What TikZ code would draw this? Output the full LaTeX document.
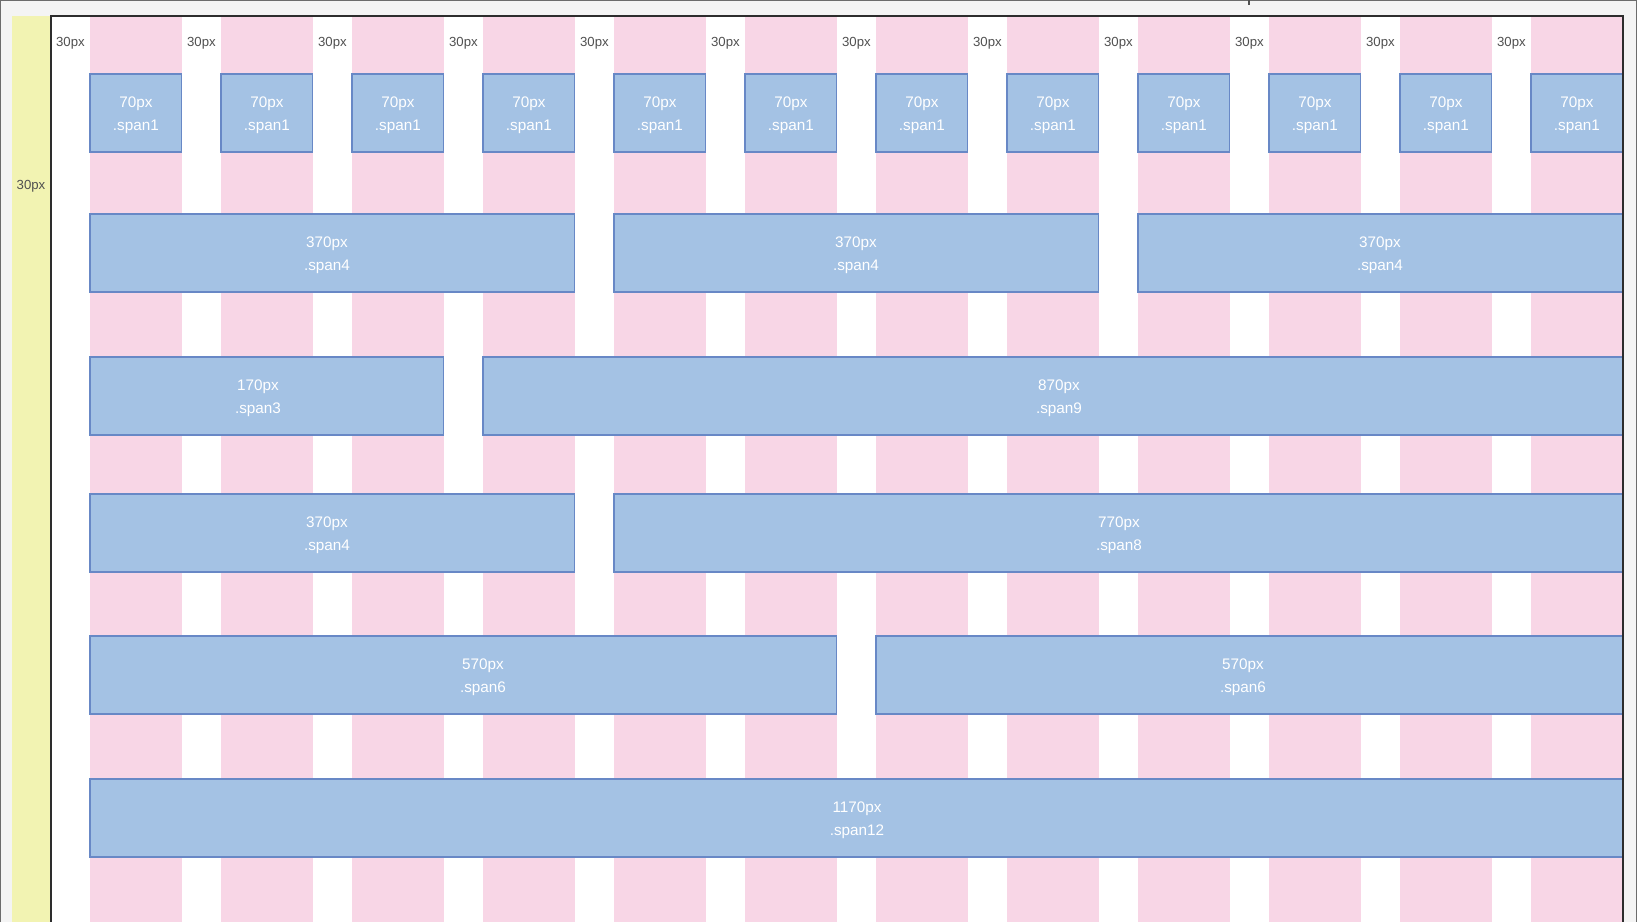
\documentclass[tikz,border=0pt]{standalone}
\usepackage{fontspec}
\setmainfont{Liberation Sans}
\definecolor{pagegray}{RGB}{244,244,244}
\definecolor{marginyellow}{RGB}{242,243,178}
\definecolor{colpink}{RGB}{248,214,230}
\definecolor{spanfill}{RGB}{164,194,228}
\definecolor{spanedge}{RGB}{104,136,198}
\definecolor{framedark}{RGB}{45,45,45}
\definecolor{labelgray}{RGB}{80,80,80}
\usepackage{tikz}

\begin{document}
\begin{tikzpicture}[x=0.02cm, y=-0.02cm,
  colstrip/.style={fill=colpink, draw=none},
  spanbox/.style={draw=spanedge, fill=spanfill, line width=0.85pt},
  spantext/.style={text=white, align=center, inner sep=0pt,
                   font=\fontsize{8.7}{13.1}\selectfont},
  gaplabel/.style={text=labelgray, inner sep=0pt,
                   font=\fontsize{7.5}{9}\selectfont}]
\useasboundingbox (0,0) rectangle (1637,922);
% page background
\fill[pagegray] (0,0) rectangle (1637,922);
\draw[framedark!70, line width=0.6pt] (0,922) -- (0,0) -- (1637,0) -- (1637,922);
\draw[labelgray, line width=0.8pt] (1249,0) -- (1249,5);
% yellow margin strip and white grid area
\fill[marginyellow] (12,16) rectangle (50,922);
\fill[white] (51,16) rectangle (1623,922);
% pink columns
\foreach \c in {0,...,11}
  \fill[colstrip] ({90+131*\c},16) rectangle ({181.7+131*\c},922);
% gutter labels
\foreach \c in {0,...,11}
  \node[gaplabel] (gut\c) at ({70.4+131*\c},43) {30px};
\node[gaplabel] (margin) at (31,186) {30px};
% span1 row
\foreach \c in {0,...,11}{
  \draw[spanbox] ({90+131*\c},74) rectangle ({181.7+131*\c},152);
  \node[spantext] (one\c) at ({135.85+131*\c},115) {70px\\.span1};
}
% wider spans: row top / first col / cols / width / label x
\foreach \t/\c/\n/\w/\tx [count=\k] in {214/0/4/370/327, 214/4/4/370/856,
    214/8/4/370/1380, 357/0/3/170/258, 357/3/9/870/1059, 494/0/4/370/327,
    494/4/8/770/1119, 636/0/6/570/483, 636/6/6/570/1243, 779/0/12/1170/857}{
  \draw[spanbox] ({90+131*\c},\t) rectangle ({90+131*(\c+\n)-39.3},{\t+78});
  \node[spantext] (span\k) at (\tx,{\t+41}) {\w px\\.span\n};
}
% frame of the grid
\draw[framedark, line width=1.1pt] (51,922) -- (51,16) -- (1623,16) -- (1623,922);
\end{tikzpicture}
\end{document}
